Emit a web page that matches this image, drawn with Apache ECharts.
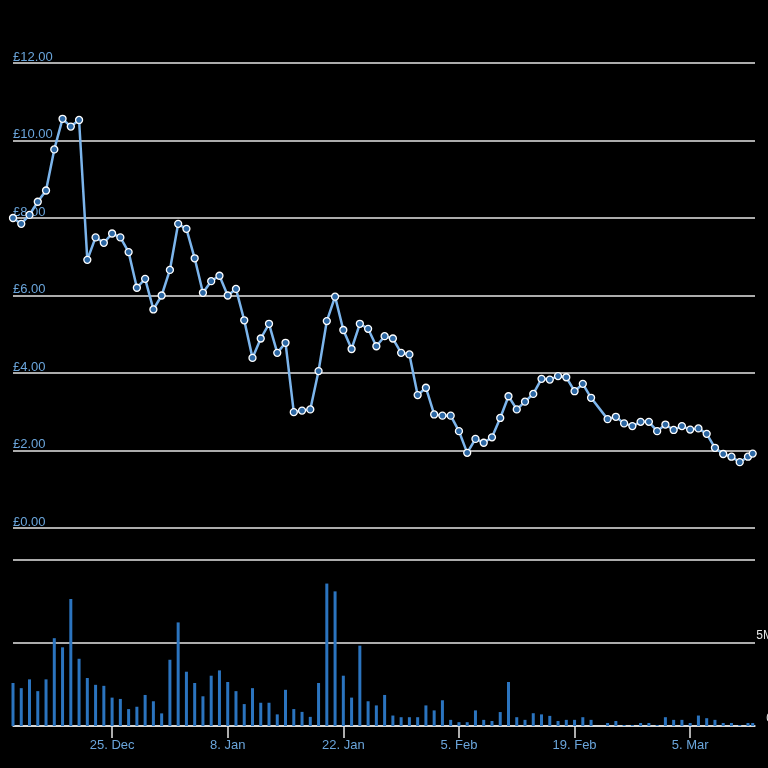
<!DOCTYPE html>
<html>
<head>
<meta charset="utf-8">
<script src="https://cdn.jsdelivr.net/npm/echarts@6/dist/echarts.min.js"></script>
<style>
  html, body { margin: 0; background: #000; }
  #chart { width: 768px; height: 768px; }
</style>
</head>
<body>
<div id="chart"></div>
<script>
// daily closes, 13 Dec 2022 - 12 Mar 2023 (no point for 22 Feb), last one intraday
const dates = [
  '2022-12-13', '2022-12-14', '2022-12-15', '2022-12-16', '2022-12-17', '2022-12-18', '2022-12-19',
  '2022-12-20', '2022-12-21', '2022-12-22', '2022-12-23', '2022-12-24', '2022-12-25', '2022-12-26',
  '2022-12-27', '2022-12-28', '2022-12-29', '2022-12-30', '2022-12-31',
  '2023-01-01', '2023-01-02', '2023-01-03', '2023-01-04', '2023-01-05', '2023-01-06', '2023-01-07',
  '2023-01-08', '2023-01-09', '2023-01-10', '2023-01-11', '2023-01-12', '2023-01-13', '2023-01-14',
  '2023-01-15', '2023-01-16', '2023-01-17', '2023-01-18', '2023-01-19', '2023-01-20', '2023-01-21',
  '2023-01-22', '2023-01-23', '2023-01-24', '2023-01-25', '2023-01-26', '2023-01-27', '2023-01-28',
  '2023-01-29', '2023-01-30', '2023-01-31',
  '2023-02-01', '2023-02-02', '2023-02-03', '2023-02-04', '2023-02-05', '2023-02-06', '2023-02-07',
  '2023-02-08', '2023-02-09', '2023-02-10', '2023-02-11', '2023-02-12', '2023-02-13', '2023-02-14',
  '2023-02-15', '2023-02-16', '2023-02-17', '2023-02-18', '2023-02-19', '2023-02-20', '2023-02-21',
  '2023-02-23', '2023-02-24', '2023-02-25', '2023-02-26', '2023-02-27', '2023-02-28',
  '2023-03-01', '2023-03-02', '2023-03-03', '2023-03-04', '2023-03-05', '2023-03-06', '2023-03-07',
  '2023-03-08', '2023-03-09', '2023-03-10', '2023-03-11', '2023-03-12', '2023-03-12T13:40Z'
];

// price in £
const prices = [
  8.00, 7.85, 8.08, 8.42, 8.71, 9.77, 10.56, 10.36, 10.53, 6.92,
  7.50, 7.36, 7.60, 7.50, 7.12, 6.20, 6.43, 5.64, 6.00, 6.66,
  7.85, 7.72, 6.96, 6.07, 6.37, 6.51, 6.00, 6.17, 5.36, 4.39,
  4.89, 5.27, 4.52, 4.78, 2.99, 3.03, 3.06, 4.05, 5.34, 5.97,
  5.11, 4.62, 5.27, 5.14, 4.69, 4.95, 4.89, 4.52, 4.48, 3.43,
  3.62, 2.93, 2.90, 2.90, 2.50, 1.94, 2.30, 2.20, 2.34, 2.84,
  3.40, 3.06, 3.26, 3.46, 3.85, 3.83, 3.92, 3.89, 3.53, 3.72,
  3.36,
  2.81, 2.87, 2.70, 2.63, 2.74, 2.74, 2.50, 2.67, 2.53,
  2.63, 2.54, 2.57, 2.43, 2.07, 1.91, 1.84, 1.70, 1.84, 1.92
];

// volume in millions
const volumes = [
  2.59, 2.28, 2.81, 2.10, 2.81, 5.29, 4.74, 7.65, 4.05, 2.89,
  2.48, 2.42, 1.71, 1.63, 1.02, 1.16, 1.87, 1.49, 0.76, 3.99,
  6.24, 3.27, 2.59, 1.79, 3.03, 3.35, 2.65, 2.10, 1.32, 2.28,
  1.40, 1.40, 0.70, 2.18, 1.02, 0.85, 0.55, 2.59, 8.58, 8.11,
  3.03, 1.71, 4.84, 1.49, 1.24, 1.87, 0.63, 0.53, 0.53, 0.53,
  1.24, 0.94, 1.55, 0.37, 0.23, 0.23, 0.94, 0.37, 0.30, 0.84,
  2.65, 0.53, 0.37, 0.77, 0.70, 0.61, 0.30, 0.37, 0.37, 0.53,
  0.37,
  0.18, 0.30, 0.06, 0.06, 0.18, 0.18, 0.06, 0.53, 0.37,
  0.37, 0.18, 0.63, 0.47, 0.37, 0.18, 0.18, 0.06, 0.18, 0.18
];

const tickDates = ['2022-12-25', '2023-01-08', '2023-01-22', '2023-02-05', '2023-02-19', '2023-03-05'];
const monthNames = ['Jan', 'Feb', 'Mar', 'Apr', 'May', 'Jun', 'Jul', 'Aug', 'Sep', 'Oct', 'Nov', 'Dec'];

const times = dates.map(d => Date.parse(d));
const tickTimes = tickDates.map(d => Date.parse(d));
const xMin = Date.parse('2022-12-13');
const xMax = Date.parse('2023-03-12T20:24Z');

const font = 'Liberation Sans, Arial, sans-serif';
const chart = echarts.init(document.getElementById('chart'));

chart.setOption({
  backgroundColor: '#000',
  animation: false,
  grid: [
    { left: 13, right: 13, top: 63, height: 465, outerBoundsMode: 'none', containLabel: false },
    { left: 13, right: 13, top: 560, height: 166, outerBoundsMode: 'none', containLabel: false }
  ],
  xAxis: [
    { type: 'value', gridIndex: 0, min: xMin, max: xMax, show: false },
    {
      type: 'value',
      gridIndex: 1,
      min: xMin,
      max: xMax,
      splitLine: { show: false },
      axisLine: { show: true, lineStyle: { color: '#e6e6e6', width: 1.5 } },
      axisTick: { show: true, length: 12, customValues: tickTimes, lineStyle: { color: '#e6e6e6', width: 1.5 } },
      axisLabel: {
        customValues: tickTimes,
        margin: 13,
        color: '#6aa5db',
        fontFamily: font,
        fontSize: 13,
        formatter: v => {
          const d = new Date(v);
          return d.getUTCDate() + '. ' + monthNames[d.getUTCMonth()];
        }
      }
    }
  ],
  yAxis: [
    {
      type: 'value',
      gridIndex: 0,
      min: 0,
      max: 12,
      interval: 2,
      axisLine: { show: false },
      axisTick: { show: false },
      splitLine: { lineStyle: { color: '#e6e6e6', width: 1.5 } },
      axisLabel: {
        inside: true,
        margin: 0,
        align: 'left',
        verticalAlign: 'bottom',
        lineHeight: 12,
        color: '#6aa5db',
        fontFamily: font,
        fontSize: 13,
        formatter: v => '£' + v.toFixed(2)
      }
    },
    {
      type: 'value',
      gridIndex: 1,
      position: 'right',
      min: 0,
      max: 10,
      interval: 5,
      axisLine: { show: false },
      axisTick: { show: false },
      splitLine: { lineStyle: { color: '#e6e6e6', width: 1.5 } },
      axisLabel: {
        showMaxLabel: false,
        margin: 18,
        align: 'right',
        verticalAlign: 'bottom',
        lineHeight: 14,
        color: '#e6e6e6',
        fontFamily: font,
        fontSize: 12,
        formatter: v => v === 0 ? '0' : v + 'M'
      }
    }
  ],
  series: [
    {
      name: 'Price',
      type: 'line',
      xAxisIndex: 0,
      yAxisIndex: 0,
      data: times.map((t, i) => [t, prices[i]]),
      symbol: 'circle',
      symbolSize: 7,
      showAllSymbol: true,
      lineStyle: { color: '#7cb5ec', width: 2.5 },
      itemStyle: { color: '#2c67a3', borderColor: '#ffffff', borderWidth: 1.3 }
    },
    {
      name: 'Volume',
      type: 'bar',
      xAxisIndex: 1,
      yAxisIndex: 1,
      data: times.map((t, i) => [t, volumes[i]]),
      barWidth: 3,
      itemStyle: { color: '#2b74bf' }
    }
  ]
});
</script>
</body>
</html>
